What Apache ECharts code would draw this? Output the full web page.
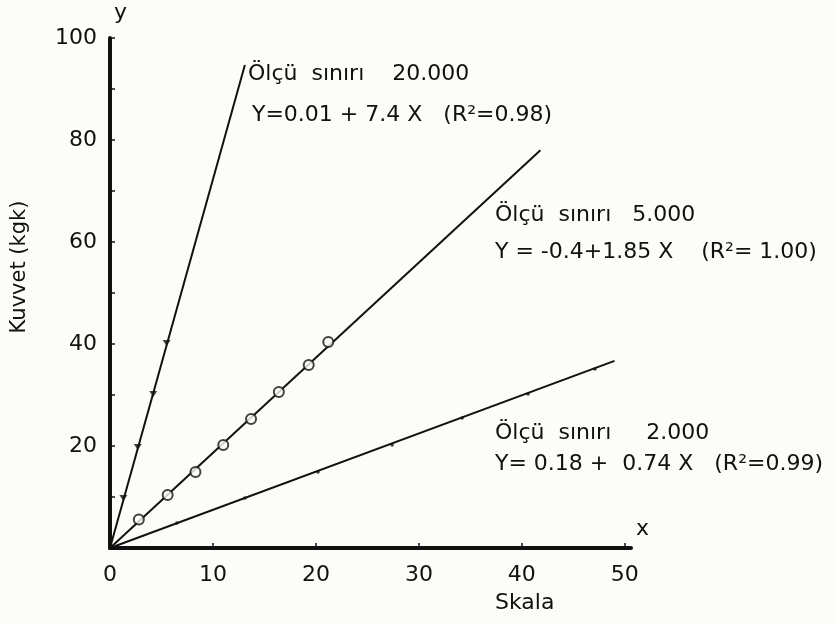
<!DOCTYPE html>
<html><head><meta charset="utf-8">
<script src="https://cdn.jsdelivr.net/npm/echarts@6/dist/echarts.min.js"></script>
<style>html,body{margin:0;padding:0;background:#fcfcf9;}#c{width:836px;height:625px;}</style>
</head><body><div id="c"></div>
<script>
// Data
const xTickLabels = [0, 10, 20, 30, 40, 50];
const yTickLabels = [20, 40, 60, 80, 100];
// Ölçü sınırı 20.000 : measured points and fitted line ends
const pts20000 = [[1.3, 9.8], [2.7, 19.8], [4.2, 30.2], [5.5, 40.2]];
const fit20000 = [[0, 0], [13.1, 94.7]];
// Ölçü sınırı 5.000
const pts5000 = [[2.8, 5.6], [5.6, 10.4], [8.3, 14.9], [11.0, 20.2], [13.7, 25.3], [16.4, 30.6], [19.3, 35.9], [21.2, 40.4]];
const fit5000 = [[0, 0], [41.8, 78.0]];
// Ölçü sınırı 2.000
const pts2000 = [[6.5, 4.9], [13.1, 9.8], [20.2, 14.9], [27.4, 20.2], [34.2, 25.5], [40.6, 30.2], [47.1, 35.1]];
const fit2000 = [[0, 0], [49.0, 36.7]];
const notes = [
  ["Ölçü  sınırı    20.000", "Y=0.01 + 7.4 X   (R²=0.98)"],
  ["Ölçü  sınırı   5.000", "Y = -0.4+1.85 X    (R²= 1.00)"],
  ["Ölçü  sınırı     2.000", "Y= 0.18 +  0.74 X   (R²=0.99)"]
];
const FONT = "DejaVu Sans";
const INK = "#111111";
const BG = "#fcfcf9";

const chart = echarts.init(document.getElementById('c'), null, {renderer: 'canvas'});
const txt = (t, left, top, size) => ({
  type: 'text', left, top,
  style: {text: t, fill: INK, font: (size || 22) + 'px "' + FONT + '"'}
});

chart.setOption({
  backgroundColor: BG,
  animation: false,
  grid: {left: 110, right: 205, top: 38, bottom: 77, containLabel: false},
  xAxis: {
    type: 'value', min: 0, max: 50.6, interval: 10,
    axisLine: {show: true, lineStyle: {color: INK, width: 4}},
    axisTick: {show: true, inside: true, length: 5, lineStyle: {color: INK, width: 1.5}, customValues: [10, 20, 30, 40, 50]},
    axisLabel: {show: true, customValues: xTickLabels, color: INK, fontSize: 22, fontFamily: FONT, margin: 16,
      formatter: v => (v % 10 === 0 ? String(v) : '')},
    splitLine: {show: false}
  },
  yAxis: {
    type: 'value', min: 0, max: 100, interval: 10,
    axisLine: {show: true, lineStyle: {color: INK, width: 4}},
    axisTick: {show: true, inside: true, length: 5, lineStyle: {color: INK, width: 1.5}},
    axisLabel: {show: true, color: INK, fontSize: 22, fontFamily: FONT, margin: 13,
      formatter: v => (yTickLabels.indexOf(v) >= 0 ? String(v) : '')},
    splitLine: {show: false}
  },
  series: [
    {type: 'line', data: fit20000, symbol: 'none', lineStyle: {color: INK, width: 2}, z: 2},
    {type: 'line', data: fit5000, symbol: 'none', lineStyle: {color: INK, width: 2}, z: 2},
    {type: 'line', data: fit2000, symbol: 'none', lineStyle: {color: INK, width: 2}, z: 2},
    {type: 'scatter', data: pts20000, symbol: 'triangle', symbolRotate: 180, symbolSize: [8, 6],
      itemStyle: {color: INK}, z: 3},
    {type: 'scatter', data: pts5000, symbol: 'circle', symbolSize: 10,
      itemStyle: {color: BG, borderColor: INK, borderWidth: 2}, z: 3},
    {type: 'scatter', data: pts2000, symbol: 'circle', symbolSize: 3.5,
      itemStyle: {color: INK}, z: 3}
  ],
  graphic: [
    txt('y', 114, 2),
    txt('x', 636, 518),
    txt('Skala', 495, 592),
    {type: 'text', x: 20, y: 267, rotation: Math.PI / 2,
      style: {text: 'Kuvvet (kgk)', fill: INK, font: '21px "' + FONT + '"', align: 'center', verticalAlign: 'middle'}},
    txt(notes[0][0], 248, 63), txt(notes[0][1], 252, 104),
    txt(notes[1][0], 495, 204), txt(notes[1][1], 495, 241),
    txt(notes[2][0], 495, 422), txt(notes[2][1], 495, 453)
  ]
});
</script></body></html>
